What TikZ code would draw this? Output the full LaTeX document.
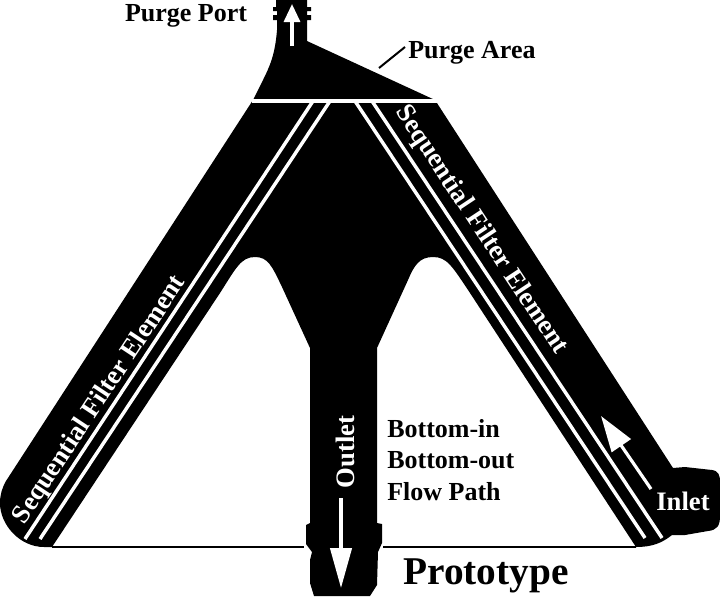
\documentclass[tikz,border=0pt]{standalone}
\usepackage{fontspec}
\setmainfont{Liberation Serif}
\usetikzlibrary{arrows.meta,positioning}

\tikzset{
  label/.style={inner sep=0pt,font=\fontsize{19.5}{23}\selectfont\bfseries},
  inlabel/.style={inner sep=0pt,text=white,font=\fontsize{20}{23}\selectfont\bfseries},
  stripe/.style={draw=white,line width=2.6pt},
  flow/.style={draw=white,line width=2.4pt},
}

\begin{document}
\begin{tikzpicture}[x=0.75pt,y=-0.75pt]
	\useasboundingbox (0,0) rectangle (720,597);
	% filter body
	\fill[black] (276,0) -- (307,0) -- (307,7) -- (311,7) -- (311,11) -- (307,11) -- (307,15) -- (311,15) -- (311,20) -- (307,20)
		-- (307,41) -- (435,100) -- (673,468) -- (685,467) -- (712,470)
		.. controls (719,471) and (720,476) .. (720,482) -- (720,516)
		.. controls (720,526) and (717,530) .. (708,531) -- (685,535) -- (672,535)
		.. controls (662,543) and (652,547) .. (636,547)
		-- (470,293) .. controls (452,266) and (447,257) .. (433,257)
		.. controls (419,257) and (414,266) .. (408,280) -- (377,348)
		-- (377,523) -- (382,524) -- (382,543) -- (378,552) -- (377,585) -- (370,596)
		-- (314,596) -- (310,583) -- (310,560) -- (312,552) -- (306,544) -- (306,525) -- (310,523)
		-- (310,348) -- (282,287) .. controls (272,266) and (268,257) .. (255,257)
		.. controls (241,257) and (236,268) .. (220,293) -- (52,547) -- (44,547)
		.. controls (20,547) and (0,525) .. (0,503)
		.. controls (0,495) and (2,488) .. (6,481) -- (253,100)
		-- (262,82) .. controls (270,66) and (275,55) .. (277,30)
		-- (277,20) -- (273,20) -- (273,15) -- (277,15) -- (277,11) -- (273,11) -- (273,7) -- (276,7) -- cycle;
	% named points of the connectors
	\coordinate (bar_l) at (252,101);
	\coordinate (bar_r) at (437,101);
	\coordinate (sl_1t) at (313,101);
	\coordinate (sl_1b) at (25,539);
	\coordinate (sl_2t) at (330,101);
	\coordinate (sl_2b) at (40,539);
	\coordinate (sr_1t) at (355,101);
	\coordinate (sr_1b) at (645,538);
	\coordinate (sr_2t) at (372,101);
	\coordinate (sr_2b) at (662,538);
	\coordinate (base_l) at (52,547);
	\coordinate (base_m) at (304,547);
	\coordinate (base_n) at (383,547);
	\coordinate (base_r) at (636,547);
	\coordinate (purge_t) at (292,4);
	\coordinate (purge_b) at (292,46);
	\coordinate (out_t) at (341,498);
	\coordinate (out_b) at (341,588);
	\coordinate (in_t) at (601,416);
	\coordinate (in_b) at (651,489);
	\coordinate (lead_a) at (379,68);
	\coordinate (lead_b) at (405,47);
	\path[stripe]
		(bar_l) edge (bar_r)
		(sl_1t) edge (sl_1b)
		(sl_2t) edge (sl_2b)
		(sr_1t) edge (sr_1b)
		(sr_2t) edge (sr_2b);
	\path[draw=black,line width=1.5pt]
		(base_l) edge (base_m)
		(base_n) edge (base_r)
		(lead_a) edge (lead_b);
	\draw[flow,-{Triangle[length=13.5pt,width=12pt]}] (purge_b) -- (purge_t);
	\draw[flow,-{Triangle[length=30pt,width=16pt]}] (out_t) -- (out_b);
	\draw[flow,-{Triangle[length=27pt,width=17pt]}] (in_b) -- (in_t);
	% texts
	\node[label] (purge_port) at (186,16) {Purge Port};
	\node[label,anchor=west] (purge_area) at (408,53) {Purge Area};
	\node[inlabel,rotate=56.5] (elem_l) at (100,400) {Sequential Filter Element};
	\node[inlabel,rotate=-56.5] (elem_r) at (481,230) {Sequential Filter Element};
	\node[inlabel,rotate=90] (outlet) at (345,452) {Outlet};
	\node[inlabel] (inlet) at (683,501) {Inlet};
	\node[label,anchor=west] (path_a) at (387,429) {Bottom-in};
	\node[label,below=16.5pt of path_a.south west,anchor=west] (path_b) {Bottom-out};
	\node[label,below=16.5pt of path_b.south west,anchor=west] (path_c) {Flow Path};
	\node[inner sep=0pt,font=\fontsize{29.5}{33}\selectfont\bfseries,anchor=west] (proto) at (403,576) {Prototype};
\end{tikzpicture}
\end{document}
